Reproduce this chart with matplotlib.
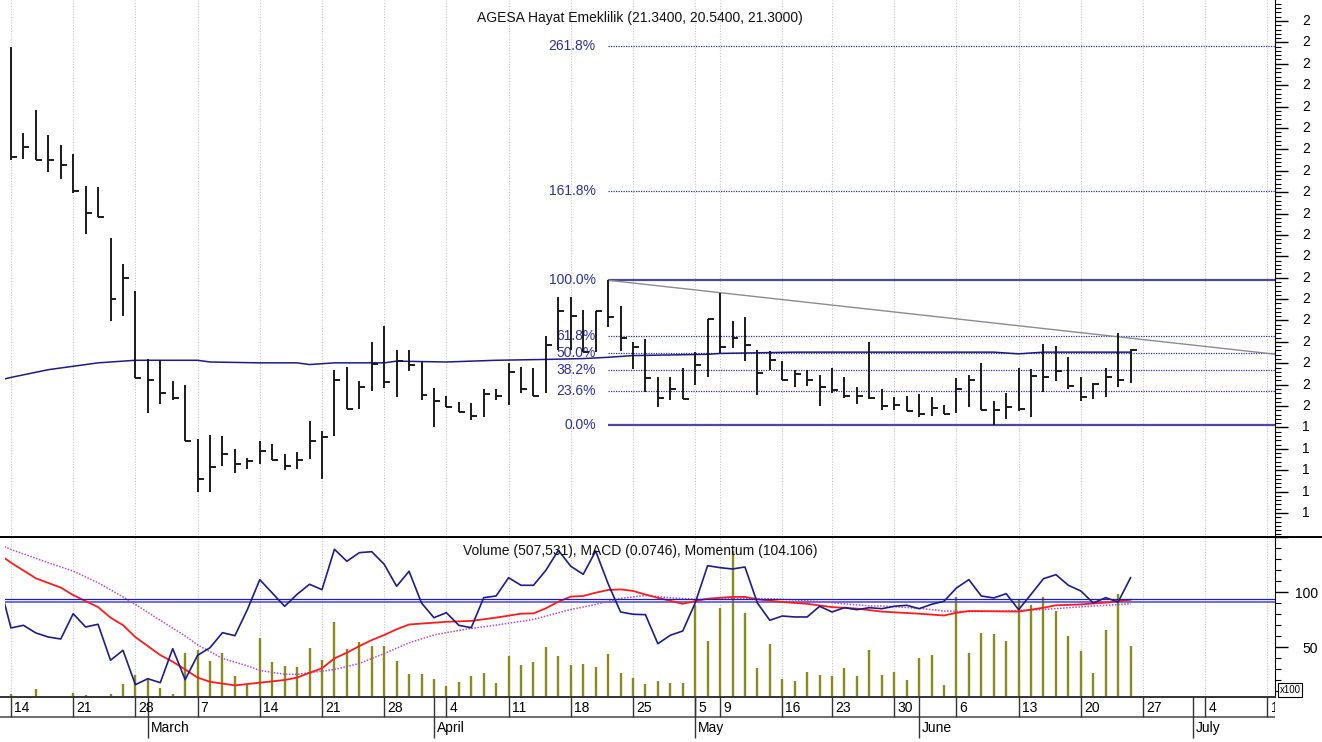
import matplotlib
matplotlib.use('Agg')
import matplotlib.pyplot as plt
from matplotlib.lines import Line2D
from matplotlib.transforms import blended_transform_factory

plt.rcParams['font.family'] = ['Liberation Sans', 'DejaVu Sans']

# daily HLC bars, 14 Feb .. 24 Jun (trading days only)
high = [28.40, 26.38, 26.92, 26.33, 26.09, 25.89, 25.15, 25.12, 23.93, 23.32,
        22.70, 21.11, 21.07, 20.58, 20.49, 19.24, 19.33, 19.29, 19.00, 18.79,
        19.19, 19.11, 18.89, 18.93, 19.64, 19.42, 20.85, 20.92, 20.58, 21.49,
        21.87, 21.31, 21.31, 21.03, 20.42, 20.23, 20.10, 20.06, 20.41, 20.41,
        21.00, 20.92, 20.88, 21.64, 22.54, 22.55, 22.24, 22.23, 22.94, 22.34,
        21.50, 21.56, 20.67, 20.68, 20.88, 21.27, 22.03, 22.65, 21.99, 22.07,
        21.32, 21.29, 21.06, 20.84, 20.84, 20.72, 20.90, 20.68, 20.45, 21.50,
        20.39, 20.22, 20.23, 20.28, 20.22, 20.02, 20.65, 20.72, 21.01, 20.12,
        20.31, 20.90, 20.86, 21.45, 21.40, 21.15, 20.68, 20.54, 20.88, 21.71,
        21.34]
low = [25.74, 25.78, 25.76, 25.48, 25.31, 24.97, 24.02, 24.43, 21.98, 22.11,
       20.66, 19.84, 20.04, 20.14, 19.19, 18.00, 18.00, 18.61, 18.43, 18.53,
       18.65, 18.73, 18.51, 18.53, 18.77, 18.30, 19.29, 19.92, 19.94, 20.36,
       20.42, 20.22, 20.82, 20.14, 19.51, 19.98, 19.87, 19.67, 19.74, 20.14,
       20.02, 20.31, 20.23, 20.30, 21.31, 21.31, 21.27, 21.27, 21.84, 21.29,
       20.86, 20.33, 19.97, 20.14, 20.16, 20.49, 20.67, 21.25, 21.35, 21.06,
       20.26, 20.84, 20.61, 20.45, 20.47, 20.00, 20.31, 20.18, 20.05, 20.16,
       19.91, 19.91, 19.89, 19.75, 19.77, 19.81, 19.84, 19.98, 19.91, 19.56,
       19.69, 19.89, 19.74, 20.33, 20.59, 20.41, 20.12, 20.16, 20.22, 20.45,
       20.54]
close = [25.82, 26.06, 25.76, 25.74, 25.64, 25.03, 24.51, 24.43, 22.51, 23.00,
         20.66, 20.60, 20.30, 20.20, 19.19, 18.29, 18.57, 18.89, 18.65, 18.71,
         18.95, 18.73, 18.61, 18.75, 19.19, 19.27, 20.60, 19.92, 20.45, 20.99,
         20.56, 21.05, 20.97, 20.26, 20.12, 19.98, 19.87, 19.77, 20.28, 20.23,
         20.80, 20.41, 20.23, 21.43, 22.23, 22.11, 21.27, 22.23, 22.07, 21.58,
         21.37, 20.66, 20.19, 20.41, 20.16, 20.97, 22.03, 21.39, 21.58, 21.42,
         20.78, 21.07, 20.61, 20.75, 20.61, 20.44, 20.37, 20.23, 20.23, 20.20,
         20.00, 20.02, 19.89, 19.81, 19.95, 19.81, 20.41, 20.61, 19.91, 19.91,
         19.98, 19.92, 20.70, 20.67, 20.82, 20.47, 20.22, 20.51, 20.68, 20.61,
         21.30]
volume = [7.5, 5, 11.8, 4.7, 4.7, 8.5, 6.4, 4.7, 7.5, 16.1,
          24.8, 20.6, 13, 7.5, 44.5, 47, 37.3, 44.5, 23.3, 16.7,
          58.5, 36.4, 33, 31.8, 49, 38.5, 72.4, 47.9, 54.2, 51.2,
          51.2, 37.3, 25.8, 25.8, 21.2, 14.8, 17.9, 23.3, 26.4, 17.3,
          41.5, 33.9, 36.4, 50, 41.5, 33.9, 34.8, 31.8, 43.6, 26.4,
          22.1, 16.1, 19.1, 17.3, 17.3, 87.9, 55.5, 85.5, 137, 80.9,
          30.9, 53, 21.2, 19.1, 27.3, 24.8, 23.3, 30.9, 23.3, 47,
          24.2, 27.3, 19.7, 40.3, 42.4, 15.8, 95.5, 44.5, 62.7, 61.5,
          55.2, 92.4, 87.9, 95.5, 82.7, 59.7, 46.7, 26.4, 65.8, 97.9,
          50.75]
# momentum from the day before the first bar (index -1)
momentum = [103.5, 94.27, 94.79, 93.29, 92.5, 92.11, 97.06, 94.46, 94.99, 87.95, 89.9,
            83.17, 84.34, 83.56, 90.22, 84.15, 88.92, 90.41, 93.35, 92.76, 97.85,
            103.72, 101.12, 98.51, 100.86, 102.82, 101.76, 109.67, 107.32, 109.0, 109.2,
            106.73, 102.43, 105.36, 99.16, 96.28, 97.26, 94.79, 94.32, 100.2, 100.53,
            104.11, 102.62, 102.62, 105.56, 109.47, 106.34, 104.77, 109.33, 102.94, 97.4,
            96.95, 96.87, 91.19, 92.84, 93.68, 99.16, 106.46, 106.07, 105.81, 106.2,
            99.16, 95.77, 96.61, 96.42, 96.42, 98.51, 97.4, 98.24, 97.85, 98.24,
            98.04, 98.51, 98.71, 98.04, 98.9, 99.49, 102.09, 103.72, 100.53, 100.14,
            100.98, 97.85, 100.86, 103.91, 104.7, 102.62, 101.51, 99.16, 100.2, 99.35,
            104.106]
macd_idx = [-1, 0, 2, 4, 5, 7, 8, 9, 10, 12, 13, 14, 15, 16, 18, 20, 22, 23, 24, 25,
            26, 27, 28, 29, 30, 31, 32, 34, 35, 37, 39, 41, 42, 43, 44, 45, 46, 47, 48, 49,
            50, 51, 52, 54, 55, 56, 58, 59, 60, 62, 64, 66, 68, 69, 70, 73, 75, 76, 77, 81,
            83, 84, 86, 88, 90]
macd_val = [1.61, 1.31, 0.79, 0.48, 0.23, -0.17, -0.52, -0.77, -1.17, -1.77,
            -1.99, -2.25, -2.52, -2.66, -2.78, -2.69, -2.6, -2.52, -2.36, -2.21,
            -1.88, -1.69, -1.47, -1.27, -1.1, -0.91, -0.75, -0.69, -0.66, -0.63,
            -0.52, -0.39, -0.38, -0.21, 0.01, 0.18, 0.2, 0.31, 0.4, 0.42,
            0.37, 0.25, 0.14, -0.06, 0.03, 0.11, 0.17, 0.17, 0.09, 0.0,
            -0.06, -0.17, -0.22, -0.27, -0.32, -0.39, -0.45, -0.36, -0.3, -0.32,
            -0.19, -0.11, -0.08, -0.02, 0.0746]
signal_idx = [-1, 0, 3, 5, 7, 9, 10, 12, 14, 15, 17, 19, 20, 22, 23, 24, 26, 28, 30, 32,
              34, 35, 37, 39, 42, 43, 45, 47, 49, 51, 53, 55, 57, 59, 61, 63, 65, 67, 69, 70,
              73, 75, 77, 80, 83, 86, 88, 90]
signal_val = [1.94, 1.75, 1.31, 1.03, 0.64, 0.17, -0.08, -0.61, -1.13, -1.43,
              -1.88, -2.13, -2.28, -2.41, -2.41, -2.36, -2.25, -2.05, -1.72, -1.36,
              -1.1, -1.02, -0.88, -0.77, -0.58, -0.47, -0.25, -0.08, 0.12, 0.22,
              0.14, 0.09, 0.1, 0.12, 0.11, 0.07, 0.01, -0.06, -0.13, -0.13,
              -0.21, -0.3, -0.32, -0.3, -0.25, -0.16, -0.11, -0.06]
ma_idx = [-1, 0, 3, 5, 7, 10, 15, 16, 20, 23, 24, 26, 30, 31, 35, 39, 43, 46, 48, 50,
          56, 57, 63, 70, 79, 81, 83, 90]
ma_val = [20.60, 20.67, 20.85, 20.93, 21.01, 21.07, 21.07, 21.03, 21.01, 21.01,
          20.97, 21.01, 21.01, 21.05, 21.03, 21.07, 21.09, 21.11, 21.14, 21.18,
          21.21, 21.23, 21.26, 21.26, 21.26, 21.22, 21.26, 21.26]

week_idx = [0, 5, 10, 15, 20, 25, 30, 35, 40, 45, 50, 55, 57, 62, 66, 71, 76, 81, 86, 91, 96, 101]
week_lab = ['14', '21', '28', '7', '14', '21', '28', '4', '11', '18', '25', '5', '9',
            '16', '23', '30', '6', '13', '20', '27', '4', '11']
month_idx = [11, 34, 55, 73, 95]
month_lab = ['March', 'April', 'May', 'June', 'July']

fib_levels = [0.0, 23.6, 38.2, 50.0, 61.8, 100.0, 161.8, 261.8]
fib_start = 48
trend_pts = [48, 57]
price_ticks = [17.5 + 0.5 * i for i in range(24)]
# the price scale only shows the leading digit of each level
price_labels = [f'{v:.2f}'[0] for v in price_ticks]

title = 'AGESA Hayat Emeklilik (21.3400, 20.5400, 21.3000)'
sub_title = 'Volume (507,531), MACD (0.0746), Momentum (104.106)'

W, H = 1322, 742
fig = plt.figure(figsize=(W / 100, H / 100), dpi=100)


def rect(x0, y0, x1, y1):
    return [x0 / W, 1 - y1 / H, (x1 - x0) / W, (y1 - y0) / H]


xlim = (-0.482, 101.61)
fs = 10
fib_col = '#2e2e9c'
grid_kw = dict(color='#c4c4c4', linestyle=(0, (1, 1.5)), linewidth=0.8)

# ---- price panel
ax = fig.add_axes(rect(5, 0, 1275, 537))
ax.set_xlim(xlim)
ax.set_ylim(16.94, 29.49)
for s in ['top', 'left', 'bottom']:
    ax.spines[s].set_visible(False)
ax.spines['right'].set_linewidth(0.8)
ax.set_xticks(week_idx)
ax.tick_params(axis='x', length=0, labelbottom=False)
ax.grid(axis='x', **grid_kw)
ax.yaxis.tick_right()
ax.set_yticks(price_ticks)
ax.set_yticks([17.0 + 0.1 * i for i in range(125)], minor=True)
ax.tick_params(axis='y', which='major', length=9, width=1, labelright=False)
ax.tick_params(axis='y', which='minor', length=4, width=0.8)

idx = list(range(len(close)))
ax.vlines(idx, low, high, color='#1a1a1a', lw=1.4, zorder=4)
ax.hlines(close, idx, [i + 0.48 for i in idx], color='#1a1a1a', lw=1.4, zorder=4)
ax.plot(ma_idx, ma_val, color='#1c1c84', lw=1.1, zorder=3)

top = high[fib_start]
bot = min(low[fib_start:])
for lv in fib_levels:
    p = bot + (top - bot) * lv / 100
    if lv in (0.0, 100.0):
        ax.hlines(p, fib_start, xlim[1], color='#4a4aa0', lw=1.6, zorder=2)
    else:
        ax.hlines(p, fib_start, xlim[1], color=fib_col, lw=0.9, linestyle=(0, (1, 1)), zorder=2)
    ax.text(fib_start - 1.0, p, f'{lv:.1f}%', ha='right', va='center', color=fib_col, fontsize=fs)

a, b = trend_pts
slope = (high[b] - high[a]) / (b - a)
ax.plot([a, xlim[1] + 2], [high[a], high[a] + slope * (xlim[1] + 2 - a)],
        color='#8c8c8c', lw=1.0, zorder=3)

trans_p = blended_transform_factory(fig.transFigure, ax.transData)
for v, lab in zip(price_ticks, price_labels):
    fig.text(1302 / W, v, lab, transform=trans_p, ha='left', va='center', fontsize=fs)

fig.text(640 / W, 1 - 18 / H, title, ha='center', va='center', fontsize=fs, color='#111111')

# ---- lower panel: volume, MACD, momentum
axl = fig.add_axes(rect(5, 537, 1275, 697))
axl.set_xlim(xlim)
axl.set_ylim(4.55, 150)
for s in ['top', 'left', 'bottom']:
    axl.spines[s].set_visible(False)
axl.spines['right'].set_linewidth(0.8)
axl.set_xticks(week_idx)
axl.tick_params(axis='x', length=0, labelbottom=False)
axl.grid(axis='x', **grid_kw)
axl.yaxis.tick_right()
axl.set_yticks([50, 100, 150])
axl.set_yticks(list(range(10, 151, 10)), minor=True)
axl.tick_params(axis='y', which='major', length=9, width=1, labelright=False)
axl.tick_params(axis='y', which='minor', length=4, width=0.8)
axl.vlines(idx, 0, volume, color='#8a8a1e', lw=1.7)

trans_v = blended_transform_factory(fig.transFigure, axl.transData)
for v in [50, 100]:
    fig.text(1318 / W, v - 1.5, str(v), transform=trans_v, ha='right', va='center', fontsize=fs)
fig.text(1290 / W, 1 - 690 / H, 'x100', ha='center', va='center', fontsize=7,
         bbox=dict(boxstyle='square,pad=0.2', fc='white', ec='black', lw=0.8))

axc = fig.add_axes(rect(5, 537, 1275, 697), frameon=False)
axc.set_xlim(xlim)
axc.set_ylim(-3.167, 2.167)
axc.axis('off')
axc.axhline(0, color='#4444e6', lw=1.1)
axc.plot(signal_idx, signal_val, color='#b04cc4', lw=1.1, linestyle=(0, (1, 1)))
axc.plot(macd_idx, macd_val, color='#ff1a1a', lw=1.3)

axm = fig.add_axes(rect(5, 537, 1275, 697), frameon=False)
axm.set_xlim(xlim)
axm.set_ylim(80.76, 112.07)
axm.axis('off')
axm.axhline(100, color='#2020b0', lw=0.9)
axm.plot(list(range(-1, len(close))), momentum, color='#1c1c8c', lw=1.2)

fig.text(640 / W, 1 - 551 / H, sub_title, ha='center', va='center', fontsize=fs, color='#111111')

# ---- date band
axd = fig.add_axes(rect(0, 697, 1275, 742))
axd.set_xlim(-0.884, 101.61)
axd.set_ylim(45, 0)
axd.axis('off')
axd.axhline(0, color='#333333', lw=1.4, clip_on=False)
axd.axhline(20, color='#555555', lw=1.2)
axd.vlines(week_idx, 0, 20, color='#333333', lw=1.0)
axd.vlines(month_idx, 0, 41, color='#333333', lw=1.0)
for i, lab in zip(week_idx, week_lab):
    axd.text(i + 0.25, 10.5, lab, ha='left', va='center', fontsize=fs, clip_on=True)
for i, lab in zip(month_idx, month_lab):
    axd.text(i + 0.25, 31, lab, ha='left', va='center', fontsize=fs, clip_on=True)

fig.add_artist(Line2D([0, 1], [1 - 537 / H] * 2, transform=fig.transFigure, color='black', lw=1.4))

fig.savefig('out.png', dpi=100)
